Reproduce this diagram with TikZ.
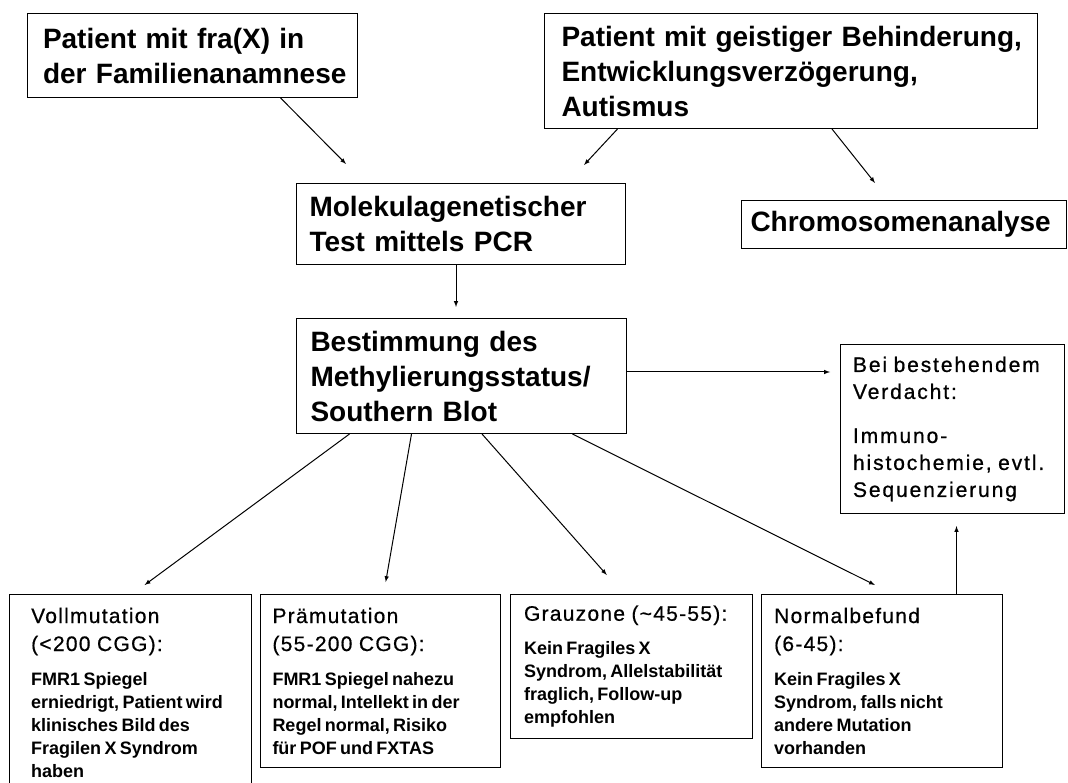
\documentclass[tikz,border=0pt]{standalone}
\usepackage{fontspec}
\setmainfont{Liberation Sans}
\newfontfamily\headfont[LetterSpace=6,FakeBold=0.6]{Liberation Sans}
\newfontfamily\suspfont[LetterSpace=9,FakeBold=0.8]{Liberation Sans}
\usetikzlibrary{positioning,calc}

\begin{document}
\begin{tikzpicture}[x=1pt,y=-1pt,
  box/.style={draw,line width=1pt,anchor=north west,inner sep=0pt,align=left,
    execute at begin node={\leftskip=#1pt}},
  big/.style={font=\bfseries\fontsize{28}{35}\selectfont},
  flow/.style={-latex,line width=1pt}
  ]
  \useasboundingbox (0,0) rectangle (1068,783);

  \node[box=15.5,big,text width=330pt,minimum height=84pt] (famil) at (27,13)
    {Patient mit fra(X) in\\der Familienanamnese};
  \node[box=17,big,text width=493pt,minimum height=115pt] (geist) at (544,13)
    {Patient mit geistiger Behinderung,\\Entwicklungsverzögerung,\\Autismus};
  \node[box=9,big,text width=325pt,minimum height=48pt] (chrom) at (741,200)
    {Chromosomenanalyse};
  \node[box=13,big,text width=329pt,minimum height=81pt] (pcr) at (296,183)
    {Molekulagenetischer\\Test mittels PCR};
  \node[box=14,big,text width=330pt,minimum height=115pt] (methyl) at (296,318)
    {Bestimmung des\\Methylierungsstatus/\\Southern Blot};
  \node[box=12.5,text width=224pt,minimum height=169pt] (verdacht) at (840,344)
    {\suspfont\fontsize{21}{27}\selectfont\spaceskip=6.5pt Bei bestehendem\\Verdacht:\par
     \vspace{17pt}Immuno-\\histochemie, evtl.\\Sequenzierung\par};

  \node[box=21.7,text width=242pt,minimum height=196pt] (voll) at (9,594)
    {{\headfont\fontsize{21}{28}\selectfont\spaceskip=6.5pt Vollmutation\\(<200 CGG):\par}
     \vspace{11pt}
     {\bfseries\fontsize{18}{23}\selectfont FMR1 Spiegel\\erniedrigt, Patient wird\\klinisches Bild des\\Fragilen X Syndrom\\haben\par}};
  \node[box=12,text width=240pt,minimum height=173pt] (praem) at (260,594)
    {{\headfont\fontsize{21}{28}\selectfont\spaceskip=6.5pt Prämutation\\(55-200 CGG):\par}
     \vspace{11pt}
     {\bfseries\fontsize{18}{23}\selectfont FMR1 Spiegel nahezu\\normal, Intellekt in der\\Regel normal, Risiko\\für POF und FXTAS\par}};
  \node[box=13.5,text width=242pt,minimum height=144pt] (grau) at (510,594)
    {{\headfont\fontsize{21}{28}\selectfont\spaceskip=6.5pt Grauzone (\textasciitilde45-55):\par}
     \vspace{11pt}
     {\bfseries\fontsize{18}{23}\selectfont Kein Fragiles X\\Syndrom, Allelstabilität\\fraglich, Follow-up\\empfohlen\par}};
  \node[box=12.7,text width=241pt,minimum height=173pt] (normal) at (761,594)
    {{\headfont\fontsize{21}{28}\selectfont\spaceskip=6.5pt Normalbefund\\(6-45):\par}
     \vspace{11pt}
     {\bfseries\fontsize{18}{23}\selectfont Kein Fragiles X\\Syndrom, falls nicht\\andere Mutation\\vorhanden\par}};

  \draw[flow] ($(famil.south west)+(253.6,0)$) -- ($(pcr.north west)+(50,-19)$);
  \draw[flow] ($(geist.south west)+(73.5,0)$) -- ($(pcr.north east)+(-42,-18)$);
  \draw[flow] ($(geist.south west)+(288,0)$) -- ($(chrom.north west)+(134,-17)$);
  \draw[flow] ($(pcr.south west)+(160,0)$) -- ($(methyl.north west)+(160,-11)$);
  \draw[flow] ($(methyl.north east)+(0,54)$) -- ($(verdacht.north west)+(-10,28)$);

  \draw[flow] ($(methyl.south west)+(53.5,0)$) -- ($(voll.north west)+(135.6,-9)$);
  \draw[flow] ($(methyl.south west)+(115.5,0)$) -- ($(praem.north west)+(125.7,-12)$);
  \draw[flow] ($(methyl.south west)+(186,0)$) -- ($(grau.north west)+(96.8,-19)$);
  \draw[flow] ($(methyl.south west)+(276.4,0)$) -- ($(normal.north west)+(113.9,-9)$);
  \draw[flow] ($(normal.north west)+(195.5,0)$) -- ($(verdacht.south west)+(116.5,12)$);
\end{tikzpicture}
\end{document}
